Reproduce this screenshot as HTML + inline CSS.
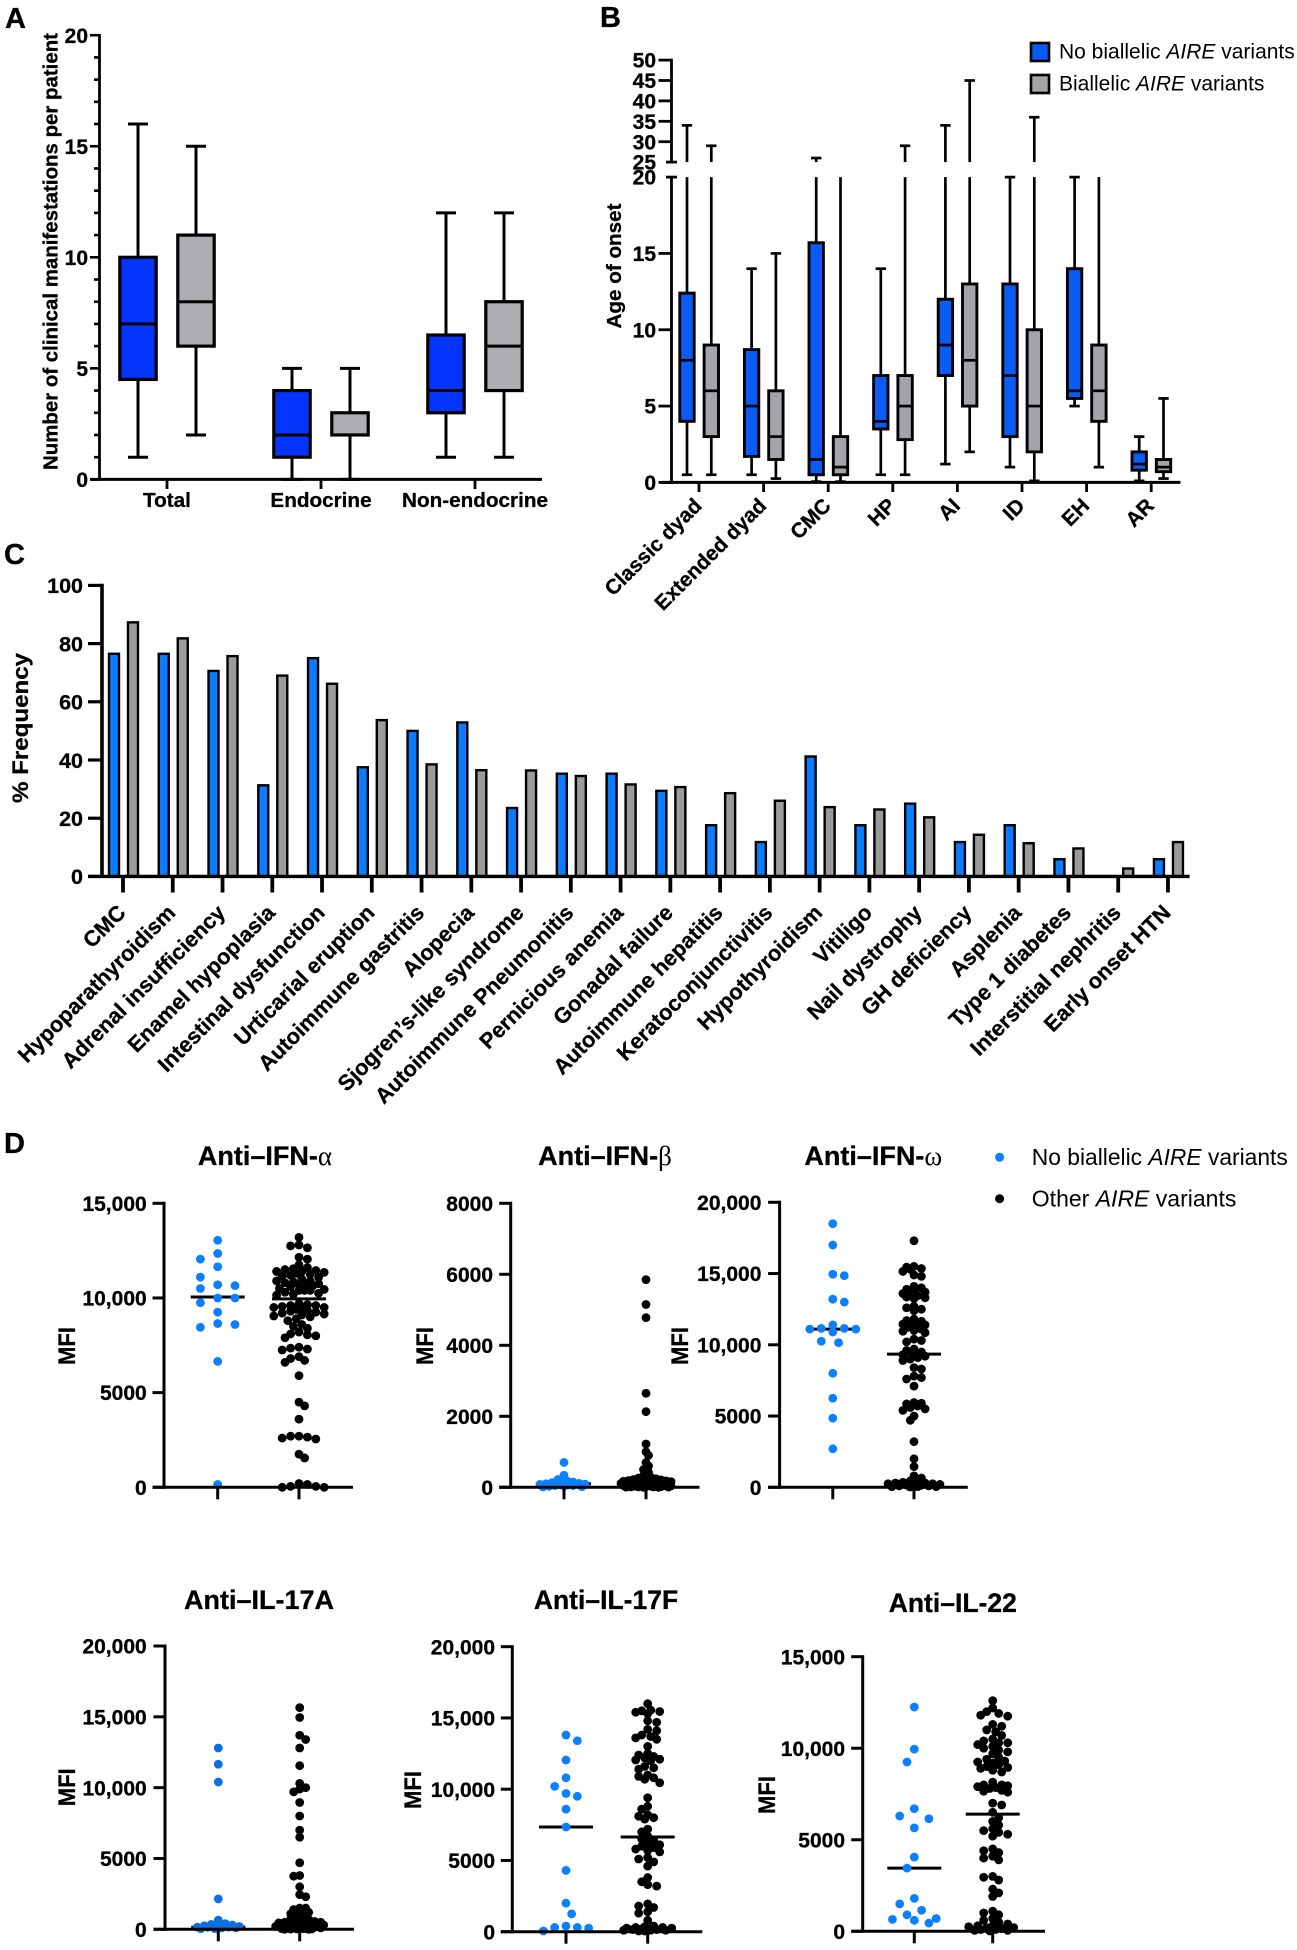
<!DOCTYPE html>
<html lang="en">
<head>
<meta charset="utf-8">
<title>AIRE variant clinical and autoantibody panels</title>
<style>
html,body{margin:0;padding:0;background:#fff;}
svg{display:block;filter:blur(0.3px);}
text{font-family:"Liberation Sans",Arial,sans-serif;fill:#000;}
.bold,text[font-weight="700"]{font-weight:700;stroke:#000;stroke-width:0.3px;}
.greek{font-family:"Liberation Serif","DejaVu Serif",serif;font-weight:400;stroke:none;}
</style>
</head>
<body>
<svg id="figure" xmlns="http://www.w3.org/2000/svg" width="1297" height="1950" viewBox="0 0 1297 1950">
  <rect x="0" y="0" width="1297" height="1950" fill="#fff"/>
  <text class="bold" x="5" y="28" font-size="29">A</text>
  <text class="bold" x="600" y="27" font-size="29">B</text>
  <text class="bold" x="4" y="564" font-size="29">C</text>
  <text class="bold" x="4" y="1153" font-size="29">D</text>

  <text class="bold" font-size="20" text-anchor="middle" transform="translate(57.5,251.5) rotate(-90)" textLength="437" lengthAdjust="spacingAndGlyphs">Number of clinical manifestations per patient</text>
  <text class="bold" font-size="20.5" text-anchor="middle" transform="translate(621,266) rotate(-90)" textLength="125" lengthAdjust="spacingAndGlyphs">Age of onset</text>
  <text class="bold" font-size="22" text-anchor="middle" transform="translate(28,728) rotate(-90)" textLength="150" lengthAdjust="spacingAndGlyphs">% Frequency</text>

  <g>
    <rect x="1031" y="43" width="18" height="18" fill="#0a5cf5" stroke="#000" stroke-width="2.6"/>
    <text x="1059" y="58.5" font-size="21">No biallelic <tspan font-style="italic">AIRE</tspan> variants</text>
    <rect x="1031" y="75" width="18" height="18" fill="#a3a3a8" stroke="#000" stroke-width="2.6"/>
    <text x="1059" y="90.5" font-size="21">Biallelic <tspan font-style="italic">AIRE</tspan> variants</text>
  </g>

  <g>
    <circle cx="999.6" cy="1157.3" r="4.5" fill="#0a80ff"/>
    <text x="1031.8" y="1165" font-size="23" textLength="256" lengthAdjust="spacingAndGlyphs">No biallelic <tspan font-style="italic">AIRE</tspan> variants</text>
    <circle cx="999.6" cy="1198.7" r="4.5" fill="#000"/>
    <text x="1031.8" y="1206.7" font-size="23">Other <tspan font-style="italic">AIRE</tspan> variants</text>
  </g>

  <text class="bold" x="265" y="1165" font-size="27" text-anchor="middle">Anti–IFN-<tspan class="greek">α</tspan></text>
  <text class="bold" x="605" y="1165" font-size="27" text-anchor="middle">Anti–IFN-<tspan class="greek">β</tspan></text>
  <text class="bold" x="873.3" y="1165" font-size="27" text-anchor="middle">Anti–IFN-<tspan class="greek">ω</tspan></text>
  <text class="bold" x="259" y="1609" font-size="27" text-anchor="middle">Anti–IL-17A</text>
  <text class="bold" x="606" y="1609" font-size="26.5" text-anchor="middle">Anti–IL-17F</text>
  <text class="bold" x="952.8" y="1612" font-size="26.5" text-anchor="middle">Anti–IL-22</text>

  <g id="panel-a"></g>
  <g id="panel-b"></g>
  <g id="panel-c"></g>
  <g id="panel-d"></g>
</svg>

<script>
// ---------- Panel A data ----------
const aCategories = ['Total', 'Endocrine', 'Non-endocrine'];
const aBlueLow = [1, 0, 1];
const aBlueQ1 = [4.5, 1, 3];
const aBlueMedian = [7, 2, 4];
const aBlueQ3 = [10, 4, 6.5];
const aBlueHigh = [16, 5, 12];
const aGrayLow = [2, 0, 1];
const aGrayQ1 = [6, 2, 4];
const aGrayMedian = [8, 2, 6];
const aGrayQ3 = [11, 3, 8];
const aGrayHigh = [15, 5, 12];
const aYTicks = [0, 5, 10, 15, 20];

// ---------- Panel B data ----------
const bCategories = ['Classic dyad', 'Extended dyad', 'CMC', 'HP', 'AI', 'ID', 'EH', 'AR'];
const bBlueLow = [0.5, 0.5, 0.05, 0.5, 1.2, 1, 5, 0.1];
const bBlueQ1 = [4, 1.7, 0.5, 3.5, 7, 3, 5.5, 0.8];
const bBlueMedian = [8, 5, 1.5, 4, 9, 7, 6, 1.2];
const bBlueQ3 = [12.4, 8.7, 15.7, 7, 12, 13, 14, 2];
const bBlueHigh = [34, 14, 26, 14, 34, 20, 20, 3];
const bGrayLow = [0.5, 0.25, 0.05, 0.5, 2, 0.1, 1, 0.25];
const bGrayQ1 = [3, 1.5, 0.5, 2.8, 5, 2, 4, 0.7];
const bGrayMedian = [6, 3, 1, 5, 8, 5, 6, 1];
const bGrayQ3 = [9, 6, 3, 7, 13, 10, 9, 1.5];
const bGrayHigh = [29, 15, 22, 29, 45, 36, 22, 5.5];
const bYTicks = [0, 5, 10, 15, 20, 25, 30, 35, 40, 45, 50];

// ---------- Panel C data ----------
const cCategories = ['CMC', 'Hypoparathyroidism', 'Adrenal insufficiency', 'Enamel hypoplasia', 'Intestinal dysfunction', 'Urticarial eruption', 'Autoimmune gastritis', 'Alopecia', 'Sjogren’s-like syndrome', 'Autoimmune Pneumonitis', 'Pernicious anemia', 'Gonadal failure', 'Autoimmune hepatitis', 'Keratoconjunctivitis', 'Hypothyroidism', 'Vitiligo', 'Nail dystrophy', 'GH deficiency', 'Asplenia', 'Type 1 diabetes', 'Interstitial nephritis', 'Early onset HTN'];
const cBlue = [76.5, 76.5, 70.6, 31.3, 75, 37.5, 50, 52.9, 23.5, 35.3, 35.3, 29.4, 17.6, 11.8, 41.2, 17.6, 25, 11.8, 17.6, 5.9, 0, 5.9];
const cGray = [87.3, 81.8, 75.7, 69, 66.2, 53.7, 38.5, 36.5, 36.4, 34.5, 31.6, 30.7, 28.6, 26, 23.8, 23, 20.3, 14.3, 11.4, 9.6, 2.7, 11.8];
const cYTicks = [0, 20, 40, 60, 80, 100];

// ---------- Panel D data ----------
const alphaBlue = [13050, 12350, 12050, 11650, 11100, 10700, 10650, 10500, 10000, 10000, 9750, 9250, 8650, 8600, 8450, 6650, 150];
const alphaBlack = [13200, 12800, 12750, 12650, 12150, 12050, 11750, 11600, 11550, 11500, 11450, 11400, 11400, 11350, 11300, 11250, 11200, 11150, 11100, 11000, 10900, 10900, 10850, 10800, 10750, 10700, 10700, 10650, 10600, 10500, 10450, 10400, 10400, 10400, 10300, 10250, 10200, 10150, 9700, 9650, 9600, 9600, 9550, 9500, 9500, 9450, 9400, 9350, 9300, 9250, 9200, 9150, 9100, 9050, 9000, 8900, 8800, 8600, 8500, 8400, 8200, 8100, 8050, 8000, 7900, 7400, 7350, 7300, 7250, 6900, 6800, 6700, 6600, 5900, 4500, 4300, 3600, 2700, 2700, 2650, 2600, 2550, 1750, 1550, 200, 150, 50, 50, 0, 0];
const alphaMedians = [10050, 9950];
const alphaTicks = [0, 5000, 10000, 15000];

const betaBlue = [700, 340, 220, 180, 150, 130, 110, 100, 90, 80, 70, 60, 50, 50, 40, 30, 20, 10];
const betaBlack = [5850, 5150, 4780, 2650, 2130, 1220, 1000, 900, 700, 600, 500, 420, 330, 280, 260, 240, 220, 210, 200, 190, 180, 170, 160, 150, 150, 140, 130, 130, 120, 110, 110, 100, 100, 90, 90, 80, 80, 70, 70, 60, 60, 50, 50, 40, 40, 30, 30, 20, 20, 10, 10, 10, 5, 5, 0, 0];
const betaMedians = [100, 120];
const betaTicks = [0, 2000, 4000, 6000, 8000];

const omegaBlue = [18500, 17000, 14950, 14850, 13200, 13000, 11400, 11150, 11150, 11100, 11100, 10900, 10250, 10150, 8000, 6250, 4850, 2700];
const omegaBlack = [17300, 15500, 15450, 15350, 15300, 15150, 14900, 14800, 14100, 14000, 13900, 13800, 13700, 13600, 13500, 13450, 13350, 13300, 13250, 12700, 12600, 12500, 12400, 11800, 11700, 11650, 11600, 11500, 11450, 11400, 11300, 11200, 11100, 11000, 10950, 10850, 10400, 10300, 10200, 9700, 9600, 9500, 9400, 9300, 9200, 9100, 9000, 8900, 8400, 8300, 7800, 7700, 7600, 7100, 5950, 5900, 5850, 5700, 5600, 5500, 5400, 5000, 4700, 3200, 2000, 1450, 800, 650, 450, 400, 350, 300, 300, 250, 250, 200, 200, 150, 150, 100, 100, 50, 50, 50, 20];
const omegaMedians = [11100, 9350];
const omegaTicks = [0, 5000, 10000, 15000, 20000];

const il17aBlue = [12800, 11650, 10400, 2150, 650, 400, 350, 300, 250, 200, 150, 150, 150, 150, 100, 100, 50, 50];
const il17aBlack = [15650, 14950, 13700, 13400, 12800, 11550, 10300, 10000, 9900, 9700, 8950, 8000, 7000, 6500, 4700, 3800, 3750, 3000, 2450, 2300, 1500, 1500, 1400, 1300, 1200, 1150, 1100, 1000, 950, 900, 850, 800, 750, 700, 650, 600, 600, 550, 500, 500, 450, 450, 400, 400, 350, 350, 300, 300, 250, 250, 200, 200, 150, 150, 100, 100, 100, 50, 50, 50, 30, 20, 10, 0, 0];
const il17aMedians = [150, 350];
const il17aTicks = [0, 5000, 10000, 15000, 20000];

const il17fBlue = [13800, 13400, 12050, 10800, 10200, 9700, 9500, 8600, 7350, 4300, 2000, 1250, 400, 300, 300, 250, 50];
const il17fBlack = [16000, 15550, 15500, 15450, 15400, 15300, 14800, 14700, 14200, 14100, 13800, 13700, 13600, 13500, 13000, 12500, 12400, 12300, 12200, 12100, 12050, 12000, 11600, 11500, 11400, 11000, 10900, 10800, 10700, 10450, 9400, 8800, 8600, 8200, 8100, 8000, 7900, 7200, 7000, 6700, 6500, 6400, 6200, 6100, 6000, 5900, 5800, 5700, 5600, 5200, 5100, 4900, 4600, 3800, 3500, 3300, 3200, 1950, 1800, 1700, 1400, 1300, 800, 400, 350, 300, 300, 250, 250, 200, 200, 150, 150, 100, 100, 100, 50, 50];
const il17fMedians = [7350, 6650];
const il17fTicks = [0, 5000, 10000, 15000, 20000];

const il22Blue = [12250, 9950, 9250, 6700, 6300, 6150, 5650, 4050, 3450, 1800, 1500, 1150, 900, 700, 650, 600, 450];
const il22Black = [12600, 12200, 12000, 11900, 11800, 11750, 11300, 11200, 11000, 10900, 10700, 10500, 10400, 10300, 10300, 10200, 10100, 10000, 9900, 9800, 9700, 9500, 9400, 9300, 9250, 9200, 9100, 9000, 8950, 8900, 8800, 8700, 8150, 8000, 8000, 7950, 7900, 7850, 7800, 7700, 7650, 7600, 7000, 6900, 6500, 6200, 6000, 5800, 5600, 5500, 5400, 5300, 5200, 4500, 4400, 4300, 4100, 4000, 3900, 3000, 2950, 2800, 2300, 2100, 1900, 1100, 1000, 900, 700, 600, 500, 400, 300, 300, 250, 200, 200, 150, 100, 100, 50, 50, 20];
const il22Medians = [3450, 6400];
const il22Ticks = [0, 5000, 10000, 15000];

// ---------- Helpers ----------
const SVG_NS = 'http://www.w3.org/2000/svg';

function shape(parent, tag, attrs) {
  const el = document.createElementNS(SVG_NS, tag);
  for (const key in attrs) el.setAttribute(key, attrs[key]);
  parent.appendChild(el);
  return el;
}

function line(parent, x1, y1, x2, y2, width) {
  return shape(parent, 'line', { x1: x1, y1: y1, x2: x2, y2: y2, stroke: '#000', 'stroke-width': width });
}

function label(parent, x, y, str, size, anchor, weight) {
  const el = shape(parent, 'text', { x: x, y: y, 'font-size': size, 'text-anchor': anchor, 'font-weight': weight });
  el.textContent = str;
  return el;
}

function linearScale(d0, d1, r0, r1) {
  return function (v) { return r0 + (v - d0) * (r1 - r0) / (d1 - d0); };
}

function brokenScale(lowerTop, upperBottom, lowScale, highScale) {
  return function (v) {
    if (v <= lowerTop) return lowScale(v);
    if (v >= upperBottom) return highScale(v);
    return lowScale(lowerTop);
  };
}

function formatTick(v) {
  return v >= 10000 ? String(v).replace(/(\d)(\d{3})$/, '$1,$2') : String(v);
}

function drawBox(parent, name, cx, halfWidth, capHalf, stats, y, fill, breakInfo, strokeWidth) {
  const g = shape(parent, 'g', {});
  
  
  const low = stats[0], q1 = stats[1], median = stats[2], q3 = stats[3], high = stats[4];
  const lowWhisker = line(g, cx, y(q1), cx, y(low), strokeWidth);
  
  
  const lowCap = line(g, cx - capHalf, y(low), cx + capHalf, y(low), strokeWidth);
  
  
  if (breakInfo && high > breakInfo.lower) {
    const lowerPart = line(g, cx, y(q3), cx, y(breakInfo.lower), strokeWidth);
    
    
    if (high >= breakInfo.upper) {
      const upperPart = line(g, cx, y(breakInfo.upper), cx, y(high), strokeWidth);
      
      
      const highCap = line(g, cx - capHalf, y(high), cx + capHalf, y(high), strokeWidth);
      
      
    }
  } else {
    const highWhisker = line(g, cx, y(q3), cx, y(high), strokeWidth);
    
    
    const highCap = line(g, cx - capHalf, y(high), cx + capHalf, y(high), strokeWidth);
    
    
  }
  const box = shape(g, 'rect', { x: cx - halfWidth, y: y(q3), width: halfWidth * 2, height: y(q1) - y(q3), fill: fill, stroke: '#000', 'stroke-width': strokeWidth + 0.2 });
  
  
  const medianLine = line(g, cx - halfWidth, y(median), cx + halfWidth, y(median), strokeWidth);
  
  
}

// ---------- Panel A ----------
(function () {
  const root = document.getElementById('panel-a');
  const axisX = 99.5;
  const y = linearScale(0, 20, 479.4, 35.2);
  const tickX = function (i) { return 167 + i * 154; };
  aCategories.forEach(function (name, i) {
    const blueStats = [aBlueLow[i], aBlueQ1[i], aBlueMedian[i], aBlueQ3[i], aBlueHigh[i]];
    const grayStats = [aGrayLow[i], aGrayQ1[i], aGrayMedian[i], aGrayQ3[i], aGrayHigh[i]];
    drawBox(root, 'box-blue-' + name.toLowerCase(), tickX(i) - 29, 18.2, 10, blueStats, y, '#0534fb', null, 3);
    drawBox(root, 'box-gray-' + name.toLowerCase(), tickX(i) + 29, 18.2, 10, grayStats, y, '#adadb2', null, 3);
    const tick = line(root, tickX(i), 479.4, tickX(i), 489, 2.8);
    
    
    const text = label(root, tickX(i), 507, name, 20.7, 'middle', 700);
    
    
  });
  for (let v = 0; v <= 20; v++) {
    const major = v % 5 === 0;
    const minor = line(root, major ? 90 : 94, y(v), axisX, y(v), 2.6);
    
    
  }
  aYTicks.forEach(function (v) {
    const text = label(root, 88, y(v) + 7.6, String(v), 21, 'end', 700);
    
    
  });
  const yAxis = line(root, axisX, 34, axisX, 480.6, 2.8);
  
  
  const xAxis = line(root, 90, 479.4, 542, 479.4, 3);
  
  
})();

// ---------- Panel B ----------
(function () {
  const root = document.getElementById('panel-b');
  const axisX = 671.5;
  const low = linearScale(0, 20, 482.4, 177.1);
  const high = linearScale(25, 50, 162.1, 60.1);
  const y = brokenScale(20, 25, low, high);
  const breakInfo = { lower: 20, upper: 25 };
  const tickX = function (i) { return 699 + i * 64.6; };
  bCategories.forEach(function (name, i) {
    const blueStats = [bBlueLow[i], bBlueQ1[i], bBlueMedian[i], bBlueQ3[i], bBlueHigh[i]];
    const grayStats = [bGrayLow[i], bGrayQ1[i], bGrayMedian[i], bGrayQ3[i], bGrayHigh[i]];
    const slug = name.toLowerCase().replace(/\s+/g, '-');
    drawBox(root, 'box-blue-' + slug, tickX(i) - 12, 7.2, 5.2, blueStats, y, '#0a5cf5', breakInfo, 2.7);
    drawBox(root, 'box-gray-' + slug, tickX(i) + 12.3, 7.2, 5.2, grayStats, y, '#a3a3a8', breakInfo, 2.7);
    const tick = line(root, tickX(i), 482.4, tickX(i), 492, 2.8);
    
    
    const px = tickX(i) + 4, py = 507;
    const text = label(root, px, py, name, 20.8, 'end', 700);
    text.setAttribute('transform', 'rotate(-45 ' + px + ' ' + py + ')');
    
    
  });
  bYTicks.forEach(function (v) {
    const atBreak = v === 20 || v === 25;
    const tick = line(root, atBreak ? 666 : 658.5, y(v), atBreak ? 677 : axisX, y(v), 2.8);
    
    
    const text = label(root, 656, y(v) + 7.6, String(v), 21, 'end', 700);
    
    
  });
  const upperAxis = line(root, axisX, y(50) - 1.4, axisX, y(25), 2.8);
  
  
  const lowerAxis = line(root, axisX, y(20), axisX, y(0) + 1.4, 2.8);
  
  
  const xAxis = line(root, 662, y(0), 1180.5, y(0), 3);
  
  
})();

// ---------- Panel C ----------
(function () {
  const root = document.getElementById('panel-c');
  const axisX = 102;
  const y = linearScale(0, 100, 876.4, 585.4);
  const tickX = function (i) { return 123 + i * 49.76; };
  cCategories.forEach(function (name, i) {
    const blueBar = shape(root, 'rect', { x: tickX(i) - 14, y: y(cBlue[i]), width: 10, height: y(0) - y(cBlue[i]), fill: '#0a7cff', stroke: '#000', 'stroke-width': 2.4 });
    
    
    const grayBar = shape(root, 'rect', { x: tickX(i) + 5, y: y(cGray[i]), width: 10, height: y(0) - y(cGray[i]), fill: '#9b9b9b', stroke: '#000', 'stroke-width': 2.4 });
    
    
    const tick = line(root, tickX(i), y(0), tickX(i), 892.5, 3.8);
    
    
    const px = tickX(i) + 4, py = 914;
    const text = label(root, px, py, name, 21.8, 'end', 700);
    text.setAttribute('transform', 'rotate(-45 ' + px + ' ' + py + ')');
    
    
  });
  cYTicks.forEach(function (v) {
    const tick = line(root, 88, y(v), axisX, y(v), 3.2);
    
    
    const text = label(root, 83, y(v) + 7.8, String(v), 21.5, 'end', 700);
    
    
  });
  const yAxis = line(root, axisX, y(100) - 1.6, axisX, y(0) + 1.6, 3.6);
  
  
  const xAxis = line(root, 88, y(0), 1189.6, y(0), 3.4);
  
  
})();

// ---------- Panel D ----------
function swarmOffsets(values, pixelYs, step, minDist, maxHalf, cut, lowHalf) {
  const placed = [];
  return pixelYs.map(function (py, i) {
    const sides = i % 2 ? [1, -1] : [-1, 1];
    const limit = values[i] < cut ? lowHalf : maxHalf;
    for (let dist = minDist; dist > 0.5; dist *= 0.8) {
      for (let r = 0; r * step <= limit; r++) {
        for (let s = 0; s < 2; s++) {
          const off = r * step * sides[s];
          const clear = placed.every(function (p) {
            const dx = p[0] - off, dy = p[1] - py;
            return dx * dx + dy * dy >= dist * dist;
          });
          if (clear) {
            placed.push([off, py]);
            return off;
          }
        }
      }
    }
    placed.push([0, py]);
    return 0;
  });
}

function drawDotChart(cfg) {
  const root = document.getElementById('panel-d');
  const g = shape(root, 'g', {});
  
  
  const y = linearScale(0, cfg.max, cfg.y0, cfg.yTop);
  const columns = [
    { values: cfg.blue, median: cfg.medians[0], cx: cfg.x1, fill: cfg.blueFill || '#0a80ff', layout: cfg.blueLayout, half: cfg.blueHalf || 27 },
    { values: cfg.black, median: cfg.medians[1], cx: cfg.x2, fill: '#000', layout: cfg.blackLayout, half: 27 }
  ];
  columns.forEach(function (col, c) {
    const medianLine = line(g, col.cx - col.half, y(col.median), col.cx + col.half, y(col.median), 3);
    
    
    const pys = col.values.map(y);
    const offsets = swarmOffsets(col.values, pys, col.layout.step, col.layout.dist, col.layout.max, col.layout.cut || 0, col.layout.low || 0);
    col.values.forEach(function (v, i) {
      const dot = shape(g, 'circle', { cx: col.cx + offsets[i], cy: y(v), r: 4.4, fill: col.fill });
      
      
    });
    const tick = line(g, col.cx, cfg.y0, col.cx, cfg.y0 + 12, 3);
    
    
  });
  cfg.ticks.forEach(function (v) {
    const tick = line(g, cfg.axisX - 11.5, y(v), cfg.axisX, y(v), 3);
    
    
    const text = label(g, cfg.labelX, y(v) + 7.6, formatTick(v), 21, 'end', 700);
    
    
  });
  const yAxis = line(g, cfg.axisX, cfg.yTop - 1.5, cfg.axisX, cfg.y0 + 1.5, 3);
  
  
  const xAxis = line(g, cfg.axisX - 11.5, cfg.y0, cfg.xEnd, cfg.y0, 3);
  
  
  const title = shape(g, 'text', { 'font-size': 24, 'font-weight': 700, 'text-anchor': 'middle', textLength: 38, lengthAdjust: 'spacingAndGlyphs', transform: 'translate(' + cfg.mfiX + ',' + cfg.mfiY + ') rotate(-90)' });
  title.textContent = 'MFI';
  
  
}

drawDotChart({ id: 'ifn-alpha', blue: alphaBlue, black: alphaBlack, medians: alphaMedians, ticks: alphaTicks, max: 15000, y0: 1487.3, yTop: 1203.3, axisX: 164, xEnd: 353, x1: 217.7, x2: 299, labelX: 146.7, mfiX: 75, mfiY: 1346, blueLayout: { step: 17.3, dist: 11, max: 18 }, blackLayout: { step: 2.8, dist: 6.5, max: 27 } });
drawDotChart({ id: 'ifn-beta', blue: betaBlue, black: betaBlack, medians: betaMedians, ticks: betaTicks, max: 8000, y0: 1487.3, yTop: 1203.3, axisX: 510.7, xEnd: 699.5, x1: 564, x2: 646, labelX: 493, mfiX: 433, mfiY: 1346, blueLayout: { step: 3, dist: 6, max: 24 }, blackLayout: { step: 2.5, dist: 5, max: 4, cut: 300, low: 26 } });
drawDotChart({ id: 'ifn-omega', blue: omegaBlue, black: omegaBlack, medians: omegaMedians, ticks: omegaTicks, max: 20000, y0: 1487.3, yTop: 1202.3, axisX: 779.6, xEnd: 967.8, x1: 832.8, x2: 914, labelX: 761.4, mfiX: 688, mfiY: 1346, blueHalf: 23, blueLayout: { step: 5.75, dist: 11, max: 24 }, blackLayout: { step: 3.7, dist: 5, max: 13, cut: 1000, low: 29 } });
drawDotChart({ id: 'il-17a', blue: il17aBlue, black: il17aBlack, medians: il17aMedians, ticks: il17aTicks, max: 20000, y0: 1929.3, yTop: 1646, axisX: 165, xEnd: 354, x1: 218.3, x2: 299.7, labelX: 146.7, mfiX: 75, mfiY: 1787.3, blueFill: '#0b6fe0', blueLayout: { step: 3.5, dist: 7, max: 23 }, blackLayout: { step: 3, dist: 5.5, max: 9, cut: 600, low: 24 } });
drawDotChart({ id: 'il-17f', blue: il17fBlue, black: il17fBlack, medians: il17fMedians, ticks: il17fTicks, max: 20000, y0: 1931.7, yTop: 1646.7, axisX: 512.3, xEnd: 702.3, x1: 566, x2: 647.7, labelX: 495, mfiX: 421, mfiY: 1790, blueLayout: { step: 5.65, dist: 11, max: 23 }, blackLayout: { step: 3, dist: 6.5, max: 13, cut: 500, low: 26 } });
drawDotChart({ id: 'il-22', blue: il22Blue, black: il22Black, medians: il22Medians, ticks: il22Ticks, max: 15000, y0: 1931.3, yTop: 1656.7, axisX: 862.7, xEnd: 1045, x1: 914.3, x2: 992.7, labelX: 845, mfiX: 775, mfiY: 1795, blueLayout: { step: 7.3, dist: 13, max: 25 }, blackLayout: { step: 3, dist: 7, max: 16, cut: 1200, low: 24 } });
</script>
</body>
</html>
